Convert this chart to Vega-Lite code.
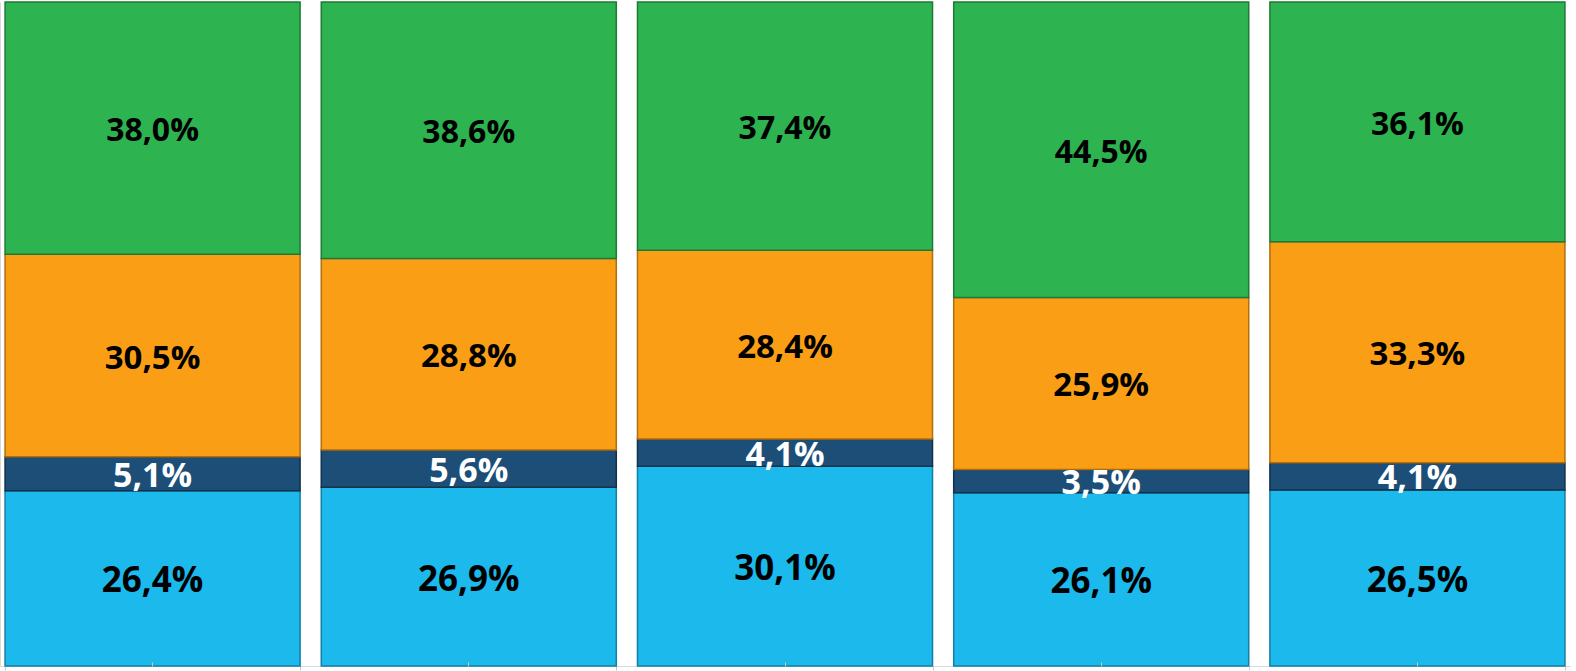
{
  "$schema": "https://vega.github.io/schema/vega-lite/v6.json",
  "width": 1570,
  "height": 664,
  "autosize": {"type": "none"},
  "padding": {"left": 0, "top": 2, "right": 6, "bottom": 5},
  "background": "white",
  "config": {"view": {"stroke": null}},
  "data": {
    "values": [
      {"cat": "1", "seg": "S1", "value": 26.4, "label": "26,4%"},
      {"cat": "1", "seg": "S2", "value": 5.1, "label": "5,1%"},
      {"cat": "1", "seg": "S3", "value": 30.5, "label": "30,5%"},
      {"cat": "1", "seg": "S4", "value": 38.0, "label": "38,0%"},
      {"cat": "2", "seg": "S1", "value": 26.9, "label": "26,9%"},
      {"cat": "2", "seg": "S2", "value": 5.6, "label": "5,6%"},
      {"cat": "2", "seg": "S3", "value": 28.8, "label": "28,8%"},
      {"cat": "2", "seg": "S4", "value": 38.6, "label": "38,6%"},
      {"cat": "3", "seg": "S1", "value": 30.1, "label": "30,1%"},
      {"cat": "3", "seg": "S2", "value": 4.1, "label": "4,1%"},
      {"cat": "3", "seg": "S3", "value": 28.4, "label": "28,4%"},
      {"cat": "3", "seg": "S4", "value": 37.4, "label": "37,4%"},
      {"cat": "4", "seg": "S1", "value": 26.1, "label": "26,1%"},
      {"cat": "4", "seg": "S2", "value": 3.5, "label": "3,5%"},
      {"cat": "4", "seg": "S3", "value": 25.9, "label": "25,9%"},
      {"cat": "4", "seg": "S4", "value": 44.5, "label": "44,5%"},
      {"cat": "5", "seg": "S1", "value": 26.5, "label": "26,5%"},
      {"cat": "5", "seg": "S2", "value": 4.1, "label": "4,1%"},
      {"cat": "5", "seg": "S3", "value": 33.3, "label": "33,3%"},
      {"cat": "5", "seg": "S4", "value": 36.1, "label": "36,1%"}
    ]
  },
  "transform": [
    {"stack": "value", "groupby": ["cat"], "sort": [{"field": "seg", "order": "ascending"}], "offset": "normalize", "as": ["y0", "y1"]},
    {"calculate": "(datum.y0 + datum.y1) / 2", "as": "ymid"}
  ],
  "layer": [
    {
      "mark": {"type": "bar", "strokeWidth": 1.5},
      "encoding": {
        "x": {
          "field": "cat", "type": "nominal",
          "scale": {"paddingInner": 0.067, "paddingOuter": 0.016},
          "axis": {"labels": false, "title": null, "tickBand": "extent", "tickOffset": 10.5, "domainColor": "#d9d9d9", "tickColor": "#c8c8c8", "tickSize": 4}
        },
        "y": {
          "field": "y0", "type": "quantitative",
          "scale": {"domain": [0, 1], "nice": false, "zero": true},
          "axis": {"labels": false, "ticks": false, "grid": false, "title": null, "domainColor": "#d9d9d9"}
        },
        "y2": {"field": "y1"},
        "color": {
          "field": "seg", "type": "nominal", "legend": null,
          "scale": {"domain": ["S1", "S2", "S3", "S4"], "range": ["#1BB9EC", "#1D4E77", "#FA9E16", "#2DB34F"]}
        },
        "stroke": {
          "field": "seg", "type": "nominal", "legend": null,
          "scale": {"domain": ["S1", "S2", "S3", "S4"], "range": ["#137FA3", "#12314B", "#B06E0D", "#1E7A36"]}
        }
      }
    },
    {
      "mark": {"type": "text", "font": "Open Sans", "fontWeight": "bold", "align": "center", "baseline": "middle", "dy": 3},
      "encoding": {
        "x": {
          "field": "cat", "type": "nominal",
          "axis": {"orient": "bottom", "labels": false, "title": null, "tickBand": "center", "domain": false, "tickColor": "#c8c8c8", "tickSize": 4, "offset": -4, "zindex": 1}
        },
        "y": {"field": "ymid", "type": "quantitative"},
        "text": {"field": "label"},
        "color": {
          "field": "seg", "type": "nominal", "legend": null,
          "scale": {"domain": ["S1", "S2", "S3", "S4"], "range": ["#000000", "#FFFFFF", "#000000", "#000000"]}
        },
        "size": {
          "field": "seg", "type": "nominal", "legend": null,
          "scale": {"domain": ["S1", "S2", "S3", "S4"], "range": [35, 32, 31, 31]}
        }
      }
    }
  ],
  "resolve": {"axis": {"x": "independent"}, "scale": {"color": "independent", "size": "independent"}}
}
